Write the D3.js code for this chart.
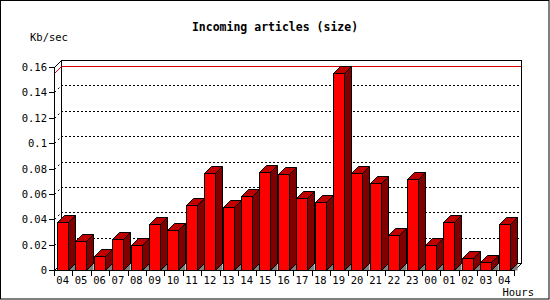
<!DOCTYPE html>
<html><head><meta charset="utf-8">
<script src="https://cdn.jsdelivr.net/npm/d3@7"></script>
<style>html,body{margin:0;padding:0;background:#fff;}svg{display:block;}</style>
</head><body>
<svg id="c" width="550" height="300"></svg>
<script>
const hours = ["04","05","06","07","08","09","10","11","12","13","14","15","16","17","18","19","20","21","22","23","00","01","02","03","04"];
const values = [0.038,0.023,0.011,0.0246,0.0195,0.0364,0.0317,0.0515,0.0768,0.0497,0.0584,0.0776,0.076,0.057,0.0539,0.1552,0.0768,0.0684,0.0277,0.072,0.0198,0.038,0.0095,0.0063,0.0364];
const yTicks = [0,0.02,0.04,0.06,0.08,0.1,0.12,0.14,0.16];
const title = "Incoming articles (size)";
const yTitle = "Kb/sec";
const xTitle = "Hours";

(function(){
const svg = d3.select("#c");
const font = "'DejaVu Sans Mono', 'Liberation Mono', monospace";
const D = 7; // depth
const x0 = 54, x1 = 514, yBase = 270;
const y = d3.scaleLinear().domain([0,0.16]).range([yBase, 67]);
const idx = hours.map((h,i)=>i);
const x = d3.scaleBand().domain(idx).range([x0, x1]);

// outer frame
svg.append("rect").attr("x",0.5).attr("y",0.5).attr("width",548.5).attr("height",298.5)
  .attr("fill","#fff").attr("stroke","#000");

const g = svg.append("g").attr("shape-rendering","crispEdges");

// back wall
const yTop = y(0.16);
g.append("rect").attr("x",x0+D+0.5).attr("y",yTop-D+0.5).attr("width",(x1+D)-(x0+D)).attr("height",(yBase-D)-(yTop-D))
  .attr("fill","#fff").attr("stroke","#000");

// gridlines (dotted) on back wall + diagonals
yTicks.slice(1,-1).forEach(t=>{
  g.append("line").attr("x1",x0+D).attr("x2",x1+D).attr("y1",Math.round(y(t))-D+0.5).attr("y2",Math.round(y(t))-D+0.5)
    .attr("stroke","#000").attr("stroke-dasharray","2,2");
  svg.append("line").attr("x1",x0+0.5).attr("y1",Math.round(y(t))+0.5).attr("x2",x0+D+0.5).attr("y2",Math.round(y(t))-D+0.5)
    .attr("stroke","#000").attr("stroke-dasharray","2,3");
});

// max line (red)
const vmax = d3.max(values);
g.append("line").attr("x1",x0+D+1).attr("x2",x1+D).attr("y1",Math.round(y(vmax))-D+0.5).attr("y2",Math.round(y(vmax))-D+0.5)
  .attr("stroke","#e00000");
svg.append("line").attr("x1",x0+0.5).attr("y1",Math.round(y(vmax))+0.5).attr("x2",x0+D+0.5).attr("y2",Math.round(y(vmax))-D+0.5)
  .attr("stroke","#e00000");

// corner diagonals
svg.append("line").attr("x1",x0+0.5).attr("y1",yTop+0.5).attr("x2",x0+D+0.5).attr("y2",yTop-D+0.5).attr("stroke","#000");
svg.append("line").attr("x1",x1+0.5).attr("y1",yBase+0.5).attr("x2",x1+D+0.5).attr("y2",yBase-D+0.5).attr("stroke","#000");
svg.append("line").attr("x1",x0+0.5).attr("y1",yBase+0.5).attr("x2",x0+D+0.5).attr("y2",yBase-D+0.5).attr("stroke","#000");

// bars
const bw = 11, off = 3;
const bars = svg.append("g");
values.forEach((v,i)=>{
  const L = Math.round(x(i)) + off + 0.5, R = L + bw, T = Math.round(y(v)) + 0.5, B = yBase + 0.5;
  bars.append("path").attr("d",`M${R},${B}L${R+D},${B-D}L${R+D},${B}Z`).attr("fill","#808080");
  bars.append("path").attr("d",`M${R},${T}L${R+D},${T-D}L${R+D},${B-D}L${R},${B}Z`)
    .attr("fill","#800000").attr("stroke","#000");
  bars.append("path").attr("d",`M${L},${T}L${L+D},${T-D}L${R+D},${T-D}L${R},${T}Z`)
    .attr("fill","#c00000").attr("stroke","#000");
  bars.append("rect").attr("x",L).attr("y",T).attr("width",bw).attr("height",B-T)
    .attr("fill","#ff0000").attr("stroke","#000");
});

// front axes
const ax = svg.append("g").attr("shape-rendering","crispEdges");
ax.append("line").attr("x1",x0+0.5).attr("x2",x0+0.5).attr("y1",yTop).attr("y2",yBase+1).attr("stroke","#000");
ax.append("line").attr("x1",x0).attr("x2",x1+1).attr("y1",yBase+0.5).attr("y2",yBase+0.5).attr("stroke","#000");

yTicks.forEach(t=>{
  ax.append("line").attr("x1",x0-5).attr("x2",x0).attr("y1",Math.round(y(t))+0.5).attr("y2",Math.round(y(t))+0.5).attr("stroke","#000");
  svg.append("text").attr("x",x0-7).attr("y",y(t)+4).attr("text-anchor","end")
    .attr("font-family",font).attr("font-size","10.5px").text(d3.format("")(t));
});

d3.range(hours.length+1).forEach(i=>{
  const xx = Math.round(i<hours.length ? x(i) : x1);
  ax.append("line").attr("x1",xx+0.5).attr("x2",xx+0.5).attr("y1",yBase).attr("y2",yBase+6).attr("stroke","#000");
});
hours.forEach((h,i)=>{
  svg.append("text").attr("x",x(i)+x.bandwidth()/2-0.5).attr("y",yBase+14).attr("text-anchor","middle")
    .attr("font-family",font).attr("font-size","10.5px").text(h);
});

svg.append("text").attr("x",275).attr("y",31).attr("text-anchor","middle")
  .attr("font-family",font).attr("font-weight","bold").attr("font-size","11.5px").text(title);
svg.append("text").attr("x",30).attr("y",41)
  .attr("font-family",font).attr("font-size","10.5px").text(yTitle);
svg.append("text").attr("x",534).attr("y",296).attr("text-anchor","end")
  .attr("font-family",font).attr("font-size","10.5px").text(xTitle);
})();
</script>
</body></html>
